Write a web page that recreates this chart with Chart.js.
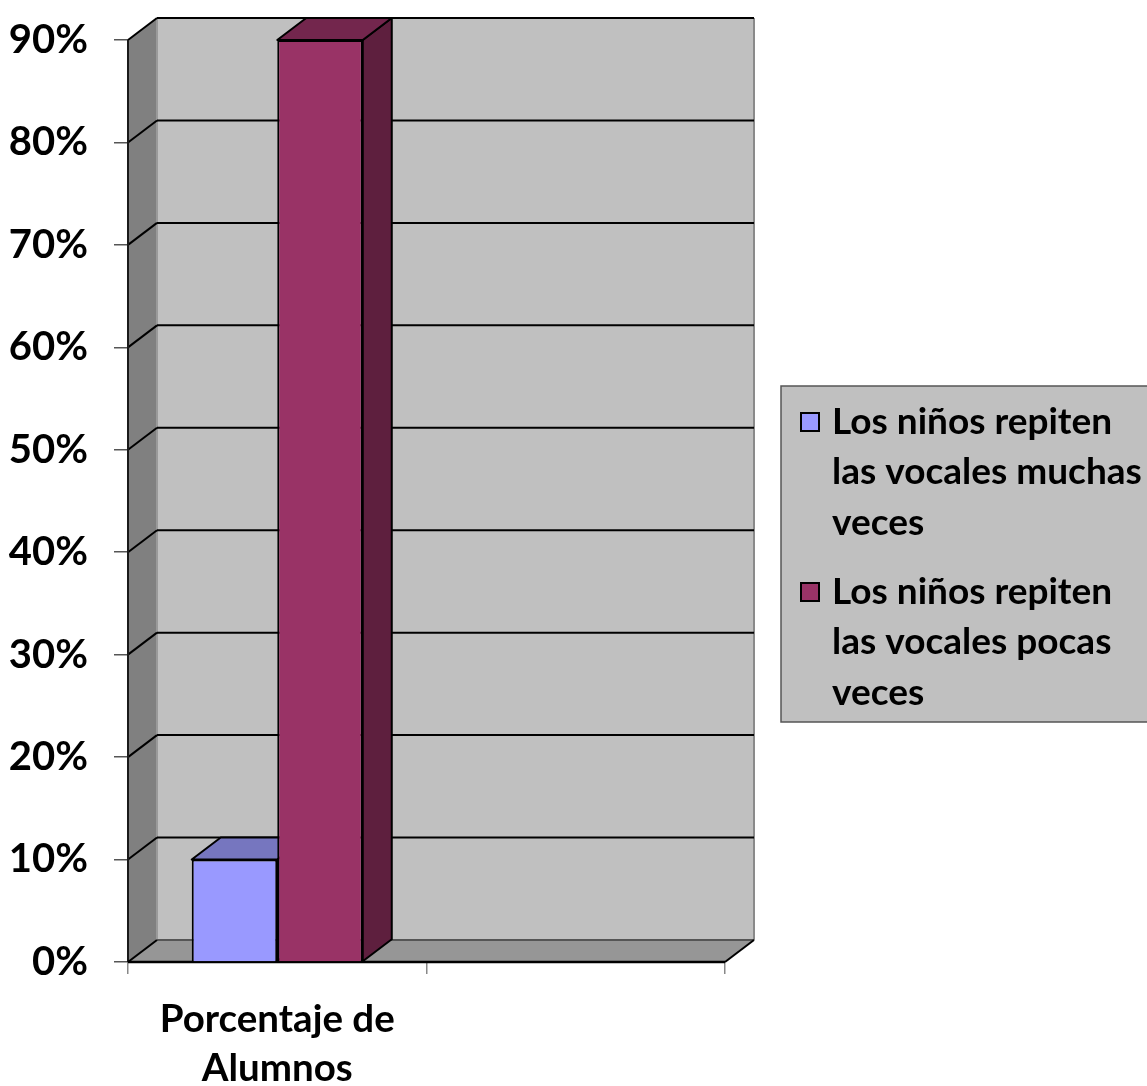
<!DOCTYPE html>
<html>
<head>
<meta charset="utf-8">
<script src="https://cdn.jsdelivr.net/npm/chart.js@4"></script>
<style>
  html, body { margin: 0; padding: 0; background: #ffffff; }
  #wrap { position: relative; width: 1147px; height: 1086px; }
</style>
</head>
<body>
<div id="wrap"><canvas id="c" width="1147" height="1086"></canvas></div>
<script>
// ---- data ----
const categories = [['Porcentaje de', 'Alumnos'], ''];
const seriesMuchas = [0.10, null];
const seriesPocas = [0.90, null];
const seriesLabelLines = [
  ['Los niños repiten', 'las vocales muchas', 'veces'],
  ['Los niños repiten', 'las vocales pocas', 'veces']
];
const yMin = 0, yMax = 0.9, yStep = 0.1;

// ---- styling ----
const FONT = 'Lato, "Open Sans", sans-serif';
const DX = 29, DY = -22;
const frontColors = ['#9999FF', '#993366'];
const topColors = ['#7676BF', '#73264D'];
const sideColors = ['#5C5C99', '#5E1F3E'];

function poly(ctx, pts, fill, stroke, lw) {
  ctx.beginPath();
  ctx.moveTo(pts[0][0], pts[0][1]);
  for (let i = 1; i < pts.length; i++) ctx.lineTo(pts[i][0], pts[i][1]);
  ctx.closePath();
  if (fill) { ctx.fillStyle = fill; ctx.fill(); }
  if (stroke) { ctx.strokeStyle = stroke; ctx.lineWidth = lw || 1; ctx.stroke(); }
}
function line(ctx, x1, y1, x2, y2, color, lw) {
  ctx.beginPath(); ctx.moveTo(x1, y1); ctx.lineTo(x2, y2);
  ctx.strokeStyle = color; ctx.lineWidth = lw; ctx.stroke();
}

const walls3d = {
  id: 'walls3d',
  beforeDatasetsDraw(chart) {
    const ctx = chart.ctx;
    const a = chart.chartArea;
    const ys = chart.scales.y;
    const L = a.left, R = a.right, T = a.top, B = a.bottom;
    ctx.save();
    ctx.lineJoin = 'round';
    poly(ctx, [[L + DX, T + DY], [R + DX, T + DY], [R + DX, B + DY], [L + DX, B + DY]], '#C0C0C0');
    poly(ctx, [[L, T], [L + DX, T + DY], [L + DX, B + DY], [L, B]], '#808080');
    poly(ctx, [[L, B], [R, B], [R + DX, B + DY], [L + DX, B + DY]], '#969696');
    line(ctx, R + DX, T + DY, R + DX, B + DY, '#8a8a8a', 2);
    line(ctx, L + DX, T + DY, L + DX, B + DY, '#9a9a9a', 2);
    line(ctx, L + DX, B + DY, R + DX, B + DY, '#555555', 2);
    for (let v = yMin + yStep; v <= yMax + 1e-9; v += yStep) {
      const y = ys.getPixelForValue(v);
      line(ctx, L, y, L + DX, y + DY, '#000000', 2);
      line(ctx, L + DX, y + DY, R + DX, y + DY, '#000000', 2);
    }
    line(ctx, L, T, L, B, '#1a1a1a', 2);
    line(ctx, L, B, L + DX, B + DY, '#000000', 2);
    line(ctx, L, B, R, B, '#000000', 2.5);
    line(ctx, R, B, R + DX, B + DY, '#000000', 2);

    chart.data.datasets.forEach((ds, di) => {
      const meta = chart.getDatasetMeta(di);
      meta.data.forEach((bar, i) => {
        if (ds.data[i] == null) return;
        const p = bar.getProps(['x', 'y', 'base', 'width'], true);
        const l = p.x - p.width / 2, r = p.x + p.width / 2;
        const top = p.y, base = p.base;
        poly(ctx, [[r, top], [r + DX, top + DY], [r + DX, base + DY], [r, base]], sideColors[di], '#000000', 2);
        poly(ctx, [[l, top], [r, top], [r + DX, top + DY], [l + DX, top + DY]], topColors[di], '#000000', 2);
      });
    });
    ctx.restore();
  },
  afterDraw(chart) {
    const ctx = chart.ctx;
    ctx.save();
    const bx = 781, by = 386, bw = 400, bh = 336;
    ctx.fillStyle = '#C0C0C0';
    ctx.fillRect(bx, by, bw, bh);
    ctx.strokeStyle = '#555555';
    ctx.lineWidth = 1.5;
    ctx.strokeRect(bx, by, bw, bh);
    ctx.font = 'bold 37px ' + FONT;
    ctx.textBaseline = 'middle';
    ctx.textAlign = 'left';
    const starts = [422, 592];
    chart.data.datasets.forEach((ds, di) => {
      const y0 = starts[di];
      ctx.fillStyle = frontColors[di];
      ctx.fillRect(801, y0 - 9, 18, 18);
      ctx.strokeStyle = '#000000';
      ctx.lineWidth = 2;
      ctx.strokeRect(801, y0 - 9, 18, 18);
      ctx.fillStyle = '#000000';
      seriesLabelLines[di].forEach((t, k) => {
        ctx.fillText(t, 832, y0 + k * 50.5);
      });
    });
    ctx.restore();
  }
};

new Chart(document.getElementById('c'), {
  type: 'bar',
  data: {
    labels: categories,
    datasets: [
      { label: seriesLabelLines[0].join(' '), data: seriesMuchas, backgroundColor: frontColors[0], borderColor: '#000000', borderWidth: 2 },
      { label: seriesLabelLines[1].join(' '), data: seriesPocas, backgroundColor: frontColors[1], borderColor: '#000000', borderWidth: 2 }
    ]
  },
  options: {
    responsive: false,
    animation: false,
    events: [],
    layout: { padding: { top: 40, right: 422, bottom: 0, left: 0 } },
    plugins: { legend: { display: false }, tooltip: { enabled: false } },
    datasets: { bar: { categoryPercentage: 0.573, barPercentage: 1.0 } },
    scales: {
      x: {
        afterFit(s) { s.height = 124; s.paddingLeft = 0; s.paddingRight = 0; },
        grid: { offset: true, drawOnChartArea: false, drawTicks: true, tickLength: 12, color: '#888888', lineWidth: 1.5 },
        border: { display: false },
        ticks: { color: '#000000', padding: 22, maxRotation: 0, autoSkip: false,
                 font: { family: FONT, size: 38.5, weight: 'bold', lineHeight: 1.25 } }
      },
      y: {
        min: yMin, max: yMax,
        afterFit(s) { s.width = 128; s.paddingTop = 0; s.paddingBottom = 0; },
        grid: { drawOnChartArea: false, drawTicks: true, tickLength: 14, color: '#555555', lineWidth: 1.5 },
        border: { display: false },
        ticks: { stepSize: yStep, color: '#000000', padding: 26,
                 callback: v => Math.round(v * 100) + '%',
                 font: { family: FONT, size: 40, weight: 'bold' } }
      }
    }
  },
  plugins: [walls3d]
});
</script>
</body>
</html>
